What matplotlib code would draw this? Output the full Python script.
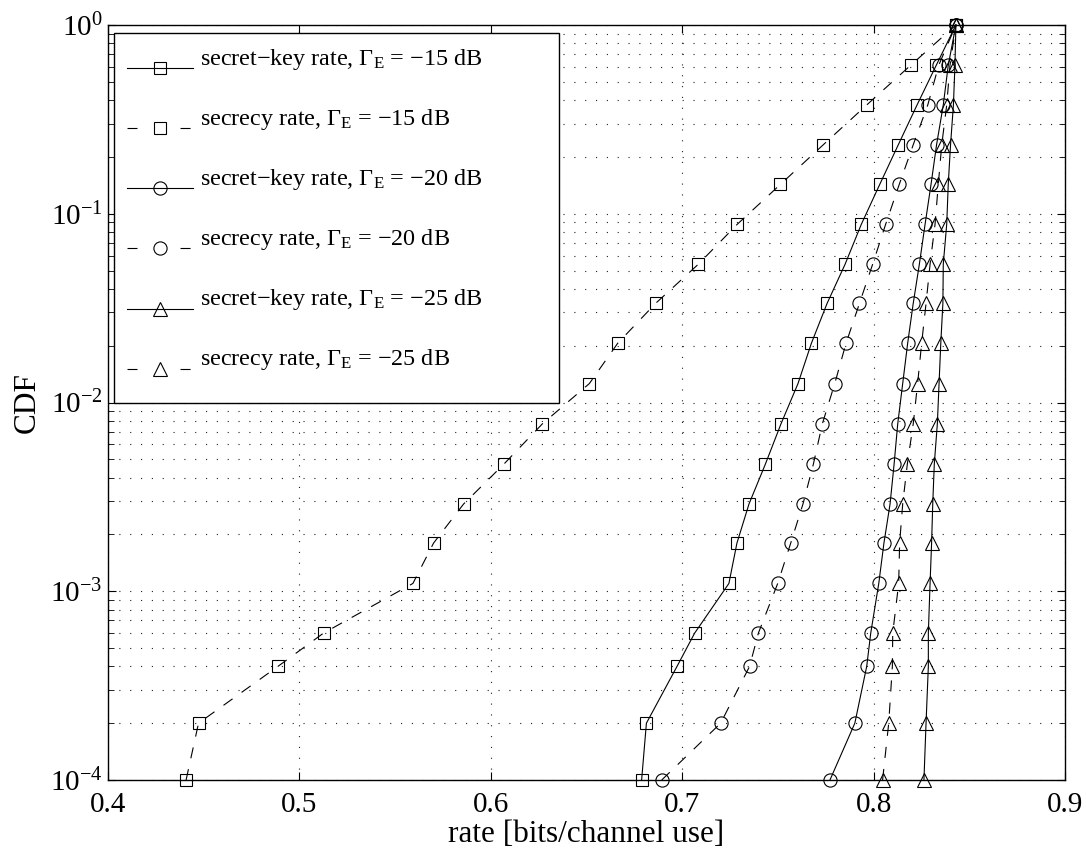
import matplotlib
matplotlib.use('Agg')
import numpy as np
import matplotlib.pyplot as plt
from matplotlib.patches import Rectangle
from matplotlib.ticker import LogLocator, NullFormatter

plt.rcParams['font.family'] = 'serif'
plt.rcParams['font.serif'] = ['Liberation Serif', 'DejaVu Serif']
plt.rcParams['mathtext.fontset'] = 'custom'
plt.rcParams['mathtext.rm'] = 'Liberation Serif'
plt.rcParams['mathtext.it'] = 'Liberation Serif:italic'
plt.rcParams['mathtext.bf'] = 'Liberation Serif:bold'
plt.rcParams['lines.scale_dashes'] = False

# CDF levels shared by all curves (bottom -> top)
cdf_levels = [1e-4, 2e-4, 4e-4, 6e-4, 1.1e-3, 1.8e-3, 2.9e-3, 4.7e-3, 7.7e-3,
              1.26e-2, 2.06e-2, 3.35e-2, 5.4e-2, 8.8e-2, 0.143, 0.232, 0.377, 0.611, 1.0]

# rate values
key_15 = [0.6788, 0.6813, 0.6973, 0.7065, 0.7244, 0.7286, 0.7349, 0.7434, 0.7516, 0.7605,
          0.7675, 0.7757, 0.7851, 0.7936, 0.8032, 0.8129, 0.8227, 0.8327, 0.843]
sec_15 = [0.4408, 0.4473, 0.4888, 0.5126, 0.5593, 0.5701, 0.5858, 0.6067, 0.6269, 0.6515,
          0.6663, 0.6861, 0.7084, 0.7288, 0.7513, 0.7737, 0.7964, 0.8193, 0.843]
key_20 = [0.7772, 0.7902, 0.7964, 0.7985, 0.8027, 0.8054, 0.8086, 0.8107, 0.8126, 0.8152,
          0.8178, 0.8207, 0.8239, 0.8269, 0.8300, 0.8329, 0.8364, 0.8390, 0.843]
sec_20 = [0.6893, 0.7201, 0.7352, 0.7398, 0.7499, 0.7567, 0.7631, 0.7685, 0.7732, 0.7797,
          0.7856, 0.7926, 0.7995, 0.8063, 0.8134, 0.8207, 0.8283, 0.8340, 0.843]
key_25 = [0.8263, 0.8274, 0.8286, 0.8286, 0.8295, 0.8303, 0.8309, 0.8317, 0.8333, 0.8342,
          0.8351, 0.8362, 0.8364, 0.8382, 0.8390, 0.8402, 0.8417, 0.8425, 0.843]
sec_25 = [0.8047, 0.8079, 0.8098, 0.8100, 0.8131, 0.8136, 0.8152, 0.8176, 0.8207, 0.8230,
          0.8251, 0.8274, 0.8295, 0.8321, 0.8338, 0.8356, 0.8382, 0.8399, 0.843]

labels = [u'secret\u2212key rate, $\\Gamma_{\\rm E}$ = \u221215 dB',
          u'secrecy rate, $\\Gamma_{\\rm E}$ = \u221215 dB',
          u'secret\u2212key rate, $\\Gamma_{\\rm E}$ = \u221220 dB',
          u'secrecy rate, $\\Gamma_{\\rm E}$ = \u221220 dB',
          u'secret\u2212key rate, $\\Gamma_{\\rm E}$ = \u221225 dB',
          u'secrecy rate, $\\Gamma_{\\rm E}$ = \u221225 dB']

fig = plt.figure(figsize=(10.86, 8.52), dpi=100)
ax = fig.add_axes([108/1086, 72/852, 957/1086, 755/852])

series = [(key_15, 's', '-'), (sec_15, 's', '--'),
          (key_20, 'o', '-'), (sec_20, 'o', '--'),
          (key_25, '^', '-'), (sec_25, '^', '--')]
msize = {'s': 8, 'o': 9.5, '^': 10}
for (xs, mk, ls), lab in zip(series, labels):
    line, = ax.plot(xs, cdf_levels, color='black', linestyle=ls, linewidth=0.8,
                    marker=mk, markersize=msize[mk], markerfacecolor='none',
                    markeredgecolor='black', markeredgewidth=0.8,
                    label=lab, clip_on=False, zorder=3)
    if ls == '--':
        line.set_dashes((8, 8))

ax.set_yscale('log')
ax.set_xlim(0.4, 0.9)
ax.set_ylim(1e-4, 1)
ax.set_xticks([0.4, 0.5, 0.6, 0.7, 0.8, 0.9])
ax.set_xticklabels(['0.4', '0.5', '0.6', '0.7', '0.8', '0.9'])
ax.yaxis.set_major_locator(LogLocator(base=10, numticks=10))
ax.yaxis.set_minor_locator(LogLocator(base=10, subs=range(2, 10), numticks=10))
ax.yaxis.set_minor_formatter(NullFormatter())

ax.tick_params(which='both', direction='in', top=True, right=True, labelsize=21)
ax.tick_params(which='major', length=6, width=0.8)
ax.tick_params(which='minor', length=4, width=0.6)
ax.tick_params(axis='x', pad=9)
ax.tick_params(axis='y', pad=4)

grid_kw = dict(color='#222222', linestyle=(0, (0.8, 7)), linewidth=0.8)
ax.grid(True, axis='x', which='major', **grid_kw)
ax.grid(True, axis='y', which='both', **grid_kw)
ax.set_axisbelow(True)
for sp in ax.spines.values():
    sp.set_linewidth(1.0)

ax.set_xlabel('rate [bits/channel use]', fontsize=22.5, labelpad=1)
ax.set_ylabel('CDF', fontsize=22.5, labelpad=6)

# legend box (MATLAB style, wide, white)
box = Rectangle((0.00585, 0.4989), 0.4654, 0.4909, transform=ax.transAxes,
                facecolor='white', edgecolor='black', linewidth=1.0, zorder=4)
ax.add_patch(box)

leg = ax.legend(loc='upper left', bbox_to_anchor=(0.01985, 0.9705),
                borderaxespad=0, borderpad=0, fontsize=17.4, frameon=False,
                handlelength=2.73, handleheight=0.7, handletextpad=0.29,
                labelspacing=1.45)
leg.set_zorder(5)
for hl, (xs, mk, ls) in zip(leg.get_lines(), series):
    hl.set_ydata(np.asarray(hl.get_ydata()) - 8.3)
    if ls == '--':
        hl.set_dashes((7.2, 31))

fig.savefig('out.png', dpi=100)
